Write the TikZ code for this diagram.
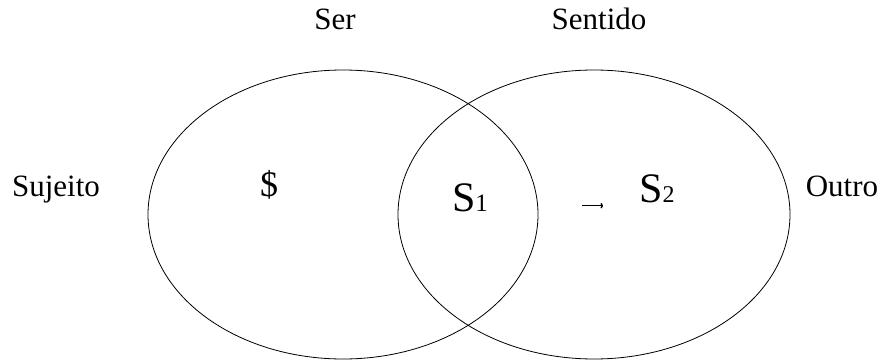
\documentclass[tikz,border=0pt]{standalone}
\usepackage{fontspec}
\setmainfont{Liberation Serif}
\usetikzlibrary{arrows.meta}

\begin{document}
\begin{tikzpicture}[x=1pt, y=1pt, line width=0.8pt,
    rotulo/.style={anchor=base, inner sep=0pt, font=\fontsize{31}{31}\selectfont},
    letra/.style={anchor=base, inner sep=0pt, font=\fontsize{42}{42}\selectfont}]
      \useasboundingbox (0,0) rectangle (881,362);

      % Elipses
      \draw[black] (343,147.5) ellipse (195pt and 144.5pt);
      \draw[black] (594,147.5) ellipse (196pt and 144.5pt);

      % Rotulos de fora
      \node[rotulo] (ser)     at (335,332) {Ser};
      \node[rotulo] (sentido) at (599,332) {Sentido};
      \node[rotulo] (sujeito) at (56,165)  {Sujeito};
      \node[rotulo] (outro)   at (842,165) {Outro};

      % Rotulos de dentro
      \node[rotulo, font=\fontsize{36}{36}\selectfont] (barrado) at (269,165) {\$};
      \node[letra] (s1) at (470,150) {S{\fontsize{25}{25}\selectfont 1}};
      \node[letra] (s2) at (657,160) {S{\fontsize{24}{24}\selectfont 2}};

      % Seta
      \coordinate (setaini) at (582,156.3);
      \coordinate (setafim) at (603,156.3);
      \draw[black, line width=1.5pt, -{To[length=2.5pt, width=5.5pt]}] (setaini) -- (setafim);

    \end{tikzpicture}
\end{document}
